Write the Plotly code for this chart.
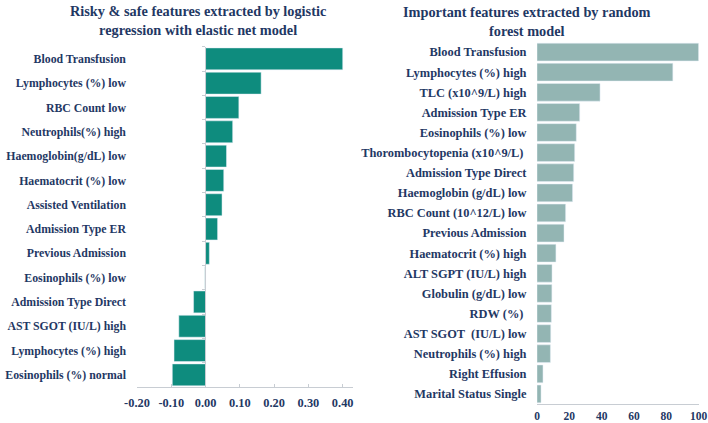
import plotly.graph_objects as go

# Left chart: logistic regression with elastic net coefficients
lr_features = [
    "Blood Transfusion", "Lymphocytes (%) low", "RBC Count low", "Neutrophils(%) high",
    "Haemoglobin(g/dL) low", "Haematocrit (%) low", "Assisted Ventilation",
    "Admission Type ER", "Previous Admission", "Eosinophils (%) low",
    "Admission Type Direct", "AST SGOT (IU/L) high", "Lymphocytes (%) high",
    "Eosinophils (%) normal",
]
lr_values = [0.400, 0.162, 0.097, 0.079, 0.061, 0.053, 0.048, 0.035, 0.011,
             -0.002, -0.035, -0.078, -0.092, -0.097]
lr_ticks = [-0.2, -0.1, 0.0, 0.1, 0.2, 0.3, 0.4]
lr_ticktext = ["-0.20", "-0.10", "0.00", "0.10", "0.20", "0.30", "0.40"]

# Right chart: random forest importances
rf_features = [
    "Blood Transfusion", "Lymphocytes (%) high", "TLC (x10^9/L) high", "Admission Type ER",
    "Eosinophils (%) low", "Thorombocytopenia (x10^9/L)\u00a0", "Admission Type Direct",
    "Haemoglobin (g/dL) low", "RBC Count (10^12/L) low", "Previous Admission",
    "Haematocrit (%) high", "ALT SGPT (IU/L) high", "Globulin (g/dL) low", "RDW (%)\u00a0",
    "AST SGOT \u00a0(IU/L) low", "Neutrophils (%) high", "Right Effusion", "Marital Status Single",
]
rf_values = [100, 84, 39, 26.4, 24.3, 23.3, 22.7, 22.0, 17.7, 16.7, 11.7, 9.3, 9.2,
             8.9, 8.5, 8.3, 3.7, 2.5]
rf_ticks = [0, 20, 40, 60, 80, 100]

NAVY = "#1F3864"
FONT = "Liberation Serif"
W, H = 708, 423

fig = go.Figure()

fig.add_trace(go.Bar(
    y=lr_features, x=lr_values, orientation="h", xaxis="x", yaxis="y",
    marker=dict(color="#0E8C7E"), width=0.9, showlegend=False,
))
fig.add_trace(go.Bar(
    y=rf_features, x=rf_values, orientation="h", xaxis="x2", yaxis="y2",
    marker=dict(color="#93B5B3"), width=0.88, showlegend=False,
))

tickfont = dict(family=FONT, size=12.4, color=NAVY, weight="bold")
tickfont_left = dict(family=FONT, size=11.8, color=NAVY, weight="bold")
tickfont_small = dict(family=FONT, size=11.5, color=NAVY, weight="bold")

x0_px = 137
x1_px = 353
zero_px = 205.3

fig.update_layout(
    width=W, height=H,
    margin=dict(l=0, r=0, t=0, b=0, autoexpand=False),
    paper_bgcolor="white", plot_bgcolor="white",
    bargap=0.1,
    xaxis=dict(
        domain=[x0_px / W, x1_px / W], range=[-0.2, 0.43],
        tickvals=lr_ticks, ticktext=lr_ticktext, tickfont=tickfont,
        showline=True, linecolor="#C8CDD3", linewidth=1,
        ticks="inside", ticklen=3, tickcolor="#C8CDD3", ticklabelstandoff=4,
        showgrid=False, zeroline=False, anchor="y", fixedrange=True, automargin=False,
    ),
    yaxis=dict(
        domain=[1 - 387 / H, 1 - 46.7 / H],
        categoryorder="array", categoryarray=lr_features[::-1],
        anchor="free", position=zero_px / W,
        showline=True, linecolor="#C8CDD3", linewidth=1,
        ticks="outside", ticklen=3, tickcolor="#C8CDD3", tickson="boundaries",
        tickfont=tickfont_left, ticklabelstandoff=77,
        showgrid=False, zeroline=False, automargin=False,
    ),
    xaxis2=dict(
        domain=[537 / W, 698.7 / W], range=[0, 100],
        tickvals=rf_ticks, tickfont=tickfont_small,
        showline=True, linecolor="#C8CDD3", linewidth=1,
        ticks="", ticklabelstandoff=1,
        showgrid=False, zeroline=False, anchor="y2", automargin=False,
    ),
    yaxis2=dict(
        domain=[1 - 404 / H, 1 - 42 / H],
        categoryorder="array", categoryarray=rf_features[::-1],
        anchor="x2", showline=False,
        ticks="outside", ticklen=7, tickcolor="rgba(0,0,0,0)",
        tickfont=tickfont, showgrid=False, zeroline=False, automargin=False,
    ),
)

title_font = dict(family=FONT, size=14.3, color=NAVY, weight="bold")
fig.add_annotation(
    text="Risky & safe features extracted by logistic<br>regression with elastic net model",
    x=198 / W, y=1 - 1.5 / H, xref="paper", yref="paper",
    showarrow=False, font=title_font, align="center", xanchor="center", yanchor="top",
)
fig.add_annotation(
    text="Important features extracted by random<br>forest model",
    x=526.7 / W, y=1 - 2.5 / H, xref="paper", yref="paper",
    showarrow=False, font=title_font, align="center", xanchor="center", yanchor="top",
)

fig.write_html(
    "out.html",
    config={"displayModeBar": False},
    post_script="document.body.style.margin='0';document.body.style.overflow='hidden';",
)
